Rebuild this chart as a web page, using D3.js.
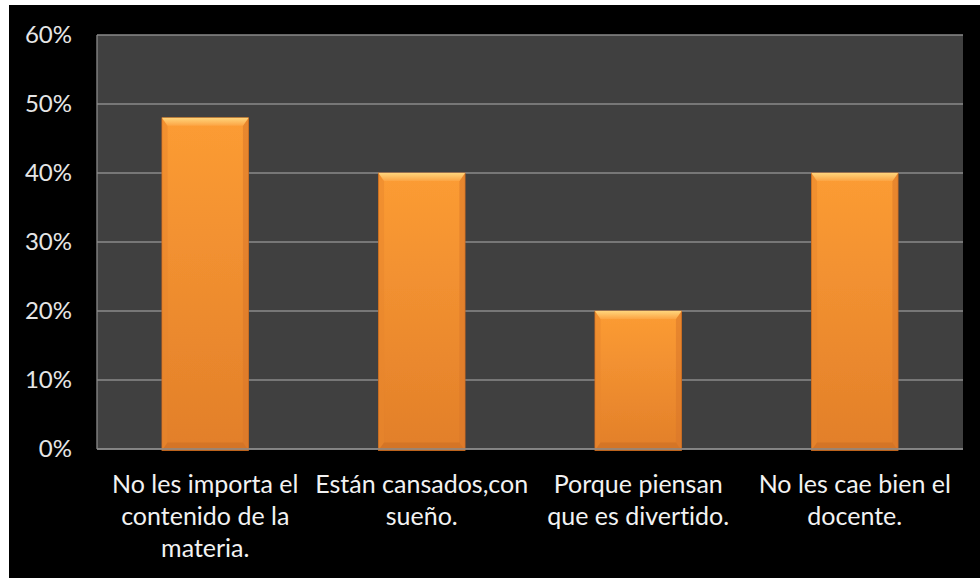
<!DOCTYPE html>
<html>
<head>
<meta charset="utf-8">
<script src="https://cdn.jsdelivr.net/npm/d3@7"></script>
<style>
  html, body { margin: 0; padding: 0; background: #ffffff; }
  svg { display: block; }
  text { font-variant-ligatures: none; font-feature-settings: "liga" 0; }
</style>
</head>
<body>
<div id="chart"></div>
<script>
// Survey results: reasons, share of answers
const categories = [
  "No les importa el contenido de la materia.",
  "Están cansados,con sueño.",
  "Porque piensan que es divertido.",
  "No les cae bien el docente."
];
const labelLines = [
  ["No les importa el", "contenido de la", "materia."],
  ["Están cansados,con", "sueño."],
  ["Porque piensan", "que es divertido."],
  ["No les cae bien el", "docente."]
];
const values = [0.48, 0.40, 0.20, 0.40];
const yTicks = [0, 0.1, 0.2, 0.3, 0.4, 0.5, 0.6];

const W = 980, H = 578;
const plot = { left: 97, top: 35, right: 963, bottom: 449 };
const font = "Lato, 'Open Sans', sans-serif";

const svg = d3.select("#chart").append("svg")
  .attr("width", W).attr("height", H);

// Black chart background
svg.append("rect")
  .attr("x", 9).attr("y", 5).attr("width", W - 9).attr("height", H - 5)
  .attr("fill", "#000000");

const x = d3.scaleBand()
  .domain(categories)
  .range([plot.left, plot.right])
  .paddingInner(0.6).paddingOuter(0.3);

const y = d3.scaleLinear()
  .domain([0, 0.6])
  .range([plot.bottom, plot.top]);

// Plot area
svg.append("rect")
  .attr("x", plot.left).attr("y", plot.top)
  .attr("width", plot.right - plot.left).attr("height", plot.bottom - plot.top)
  .attr("fill", "#404040");

// Gridlines
svg.append("g")
  .selectAll("line").data(yTicks).join("line")
  .attr("x1", plot.left).attr("x2", plot.right)
  .attr("y1", d => y(d)).attr("y2", d => y(d))
  .attr("stroke", "#8a8a8a").attr("stroke-width", 1.3);

// Left axis line
svg.append("line")
  .attr("x1", plot.left).attr("x2", plot.left)
  .attr("y1", plot.top).attr("y2", plot.bottom)
  .attr("stroke", "#8a8a8a").attr("stroke-width", 1.3);

// Y axis labels
const yAxis = d3.axisLeft(y).tickValues(yTicks)
  .tickFormat(d3.format(".0%")).tickSize(0).tickPadding(25);
const gy = svg.append("g").attr("transform", `translate(${plot.left},0)`).call(yAxis);
gy.select(".domain").remove();
gy.selectAll("text")
  .attr("fill", "#e6e6e6")
  .style("font-family", font).style("font-size", "24px");

// Bar gradients
const defs = svg.append("defs");
const body = defs.append("linearGradient").attr("id", "barBody")
  .attr("x1", 0).attr("y1", 0).attr("x2", 0).attr("y2", 1);
body.append("stop").attr("offset", "0%").attr("stop-color", "#fc9c34");
body.append("stop").attr("offset", "100%").attr("stop-color", "#e27f2a");

const topBevel = defs.append("linearGradient").attr("id", "barTop")
  .attr("x1", 0).attr("y1", 0).attr("x2", 0).attr("y2", 1);
topBevel.append("stop").attr("offset", "0%").attr("stop-color", "#ffd57c");
topBevel.append("stop").attr("offset", "100%").attr("stop-color", "#fca443");

const glow = defs.append("filter").attr("id", "soft")
  .attr("x", "-10%").attr("y", "-10%").attr("width", "120%").attr("height", "120%");
glow.append("feGaussianBlur").attr("stdDeviation", 0.6);

const bev = 8;
const bars = svg.append("g").selectAll("g").data(values).join("g");

bars.append("rect")
  .attr("x", (d, i) => x(categories[i]))
  .attr("y", d => y(d))
  .attr("width", x.bandwidth())
  .attr("height", d => y(0) - y(d) + 1.5)
  .attr("fill", "url(#barBody)")
  .attr("stroke", "#c8691f").attr("stroke-width", 0.8)
  .attr("filter", "url(#soft)");

// side bevels (slightly darker)
bars.append("polygon")
  .attr("points", (d, i) => {
    const x0 = x(categories[i]), y0 = y(d), y1 = y(0) + 1.5;
    return [[x0, y0], [x0 + bev * 0.7, y0 + bev], [x0 + bev * 0.7, y1 - bev], [x0, y1]].join(" ");
  })
  .attr("fill", "#e8862c").attr("opacity", 0.5);
bars.append("polygon")
  .attr("points", (d, i) => {
    const x1 = x(categories[i]) + x.bandwidth(), y0 = y(d), y1 = y(0) + 1.5;
    return [[x1, y0], [x1 - bev * 0.7, y0 + bev], [x1 - bev * 0.7, y1 - bev], [x1, y1]].join(" ");
  })
  .attr("fill", "#d9772a").attr("opacity", 0.55);

// bottom bevel (darker)
bars.append("polygon")
  .attr("points", (d, i) => {
    const x0 = x(categories[i]), x1 = x0 + x.bandwidth(), y1 = y(0) + 1.5;
    return [[x0, y1], [x0 + bev * 0.7, y1 - bev], [x1 - bev * 0.7, y1 - bev], [x1, y1]].join(" ");
  })
  .attr("fill", "#c96c22").attr("opacity", 0.55);

// top bevel (highlight)
bars.append("polygon")
  .attr("points", (d, i) => {
    const x0 = x(categories[i]), x1 = x0 + x.bandwidth(), y0 = y(d);
    return [[x0, y0], [x1, y0], [x1 - bev * 0.7, y0 + bev], [x0 + bev * 0.7, y0 + bev]].join(" ");
  })
  .attr("fill", "url(#barTop)");

// Bottom axis line
svg.append("line")
  .attr("x1", plot.left).attr("x2", plot.right)
  .attr("y1", plot.bottom).attr("y2", plot.bottom)
  .attr("stroke", "#8a8a8a").attr("stroke-width", 1.3);

// Category labels
const labels = svg.append("g").selectAll("text").data(categories).join("text")
  .attr("x", d => x(d) + x.bandwidth() / 2)
  .attr("y", 493)
  .attr("text-anchor", "middle")
  .attr("fill", "#f2f2f2")
  .style("font-family", font).style("font-size", "25px");
labels.selectAll("tspan").data((d, i) => labelLines[i]).join("tspan")
  .attr("x", function () { return d3.select(this.parentNode).attr("x"); })
  .attr("dy", (d, j) => j === 0 ? 0 : 32)
  .text(d => d);
</script>
</body>
</html>
